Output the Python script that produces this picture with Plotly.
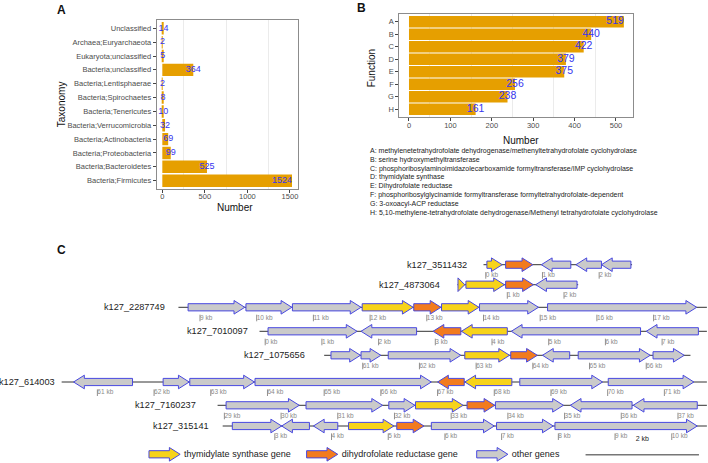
import plotly.graph_objects as go

# ---------------- data ----------------
TAXA = ["Unclassified", "Archaea;Euryarchaeota", "Eukaryota;unclassified",
        "Bacteria;unclassified", "Bacteria;Lentisphaerae", "Bacteria;Spirochaetes",
        "Bacteria;Tenericutes", "Bacteria;Verrucomicrobia", "Bacteria;Actinobacteria",
        "Bacteria;Proteobacteria", "Bacteria;Bacteroidetes", "Bacteria;Firmicutes"]
TAXA_COUNTS = [14, 2, 5, 364, 2, 8, 10, 32, 69, 99, 525, 1524]

FUNCS = ["A", "B", "C", "D", "E", "F", "G", "H"]
FUNC_COUNTS = [519, 440, 422, 379, 375, 256, 238, 161]
FUNC_NAMES = [
    "methylenetetrahydrofolate dehydrogenase/methenyltetrahydrofolate cyclohydrolase",
    "serine hydroxymethyltransferase",
    "phosphoribosylaminoimidazolecarboxamide formyltransferase/IMP cyclohydrolase",
    "thymidylate synthase",
    "Dihydrofolate reductase",
    "phosphoribosylglycinamide formyltransferase formyltetrahydrofolate-dependent",
    "3-oxoacyl-ACP reductase",
    "5,10-methylene-tetrahydrofolate dehydrogenase/Methenyl tetrahydrofolate cyclohydrolase",
]

CONTIGS = ["k127_3511432", "k127_4873064", "k127_2287749", "k127_7010097",
           "k127_1075656", "k127_614003", "k127_7160237", "k127_315141"]
CONTIG_START = [-0.04, 0.12, 8.62, -0.10, 60.32, 60.37, 28.88, 2.08]   # kb
CONTIG_END = [2.58, 2.25, 17.94, 7.79, 66.78, 71.75, 37.51, 10.62]     # kb
TICK_FIRST = [0, 1, 9, 0, 61, 61, 29, 3]
TICK_LAST = [2, 2, 17, 7, 66, 71, 37, 10]

GENE_CONTIG = [0, 0, 0, 0, 0,
               1, 1, 1, 1,
               2, 2, 2, 2, 2, 2, 2, 2,
               3, 3, 3, 3, 3, 3,
               4, 4, 4, 4, 4, 4, 4, 4,
               5, 5, 5, 5, 5, 5, 5, 5,
               6, 6, 6, 6, 6, 6, 6, 6,
               7, 7, 7, 7, 7, 7, 7, 7]
GENE_START = [0.02, 0.35, 0.98, 1.59, 2.04,
              0.13, 0.27, 0.97, 1.50,
              8.79, 9.81, 10.63, 11.86, 12.77, 13.26, 13.93, 15.13,
              0.05, 1.69, 2.96, 3.46, 4.34, 6.72,
              60.44, 60.97, 61.45, 62.80, 63.61, 64.17, 64.80, 66.12,
              60.58, 62.16, 62.63, 63.78, 67.00, 67.48, 68.45, 70.01,
              29.03, 30.44, 31.90, 32.37, 33.28, 33.78, 35.10, 36.21,
              2.25, 3.12, 3.68, 4.30, 5.15, 5.76, 6.91, 7.94]
GENE_END = [0.29, 0.83, 1.50, 2.04, 2.56,
            0.25, 0.95, 1.46, 2.23,
            9.79, 10.62, 11.84, 12.76, 13.25, 13.92, 14.97, 17.76,
            1.62, 2.67, 3.45, 4.27, 6.62, 7.64,
            60.96, 61.32, 62.73, 63.59, 64.08, 64.65, 66.07, 66.67,
            61.62, 62.62, 63.77, 66.89, 67.47, 68.31, 69.91, 71.52,
            30.32, 31.79, 32.36, 33.21, 33.77, 34.98, 36.19, 37.34,
            3.12, 3.61, 4.11, 5.10, 5.63, 6.87, 7.91, 10.45]
GENE_STRAND = [1, 1, -1, -1, -1,
               1, 1, 1, -1,
               1, 1, 1, 1, 1, 1, 1, 1,
               1, -1, -1, -1, -1, -1,
               1, 1, 1, 1, 1, -1, 1, 1,
               -1, 1, 1, 1, -1, -1, 1, 1,
               1, 1, 1, 1, 1, 1, -1, -1,
               1, -1, -1, 1, 1, 1, 1, 1]
GENE_TYPE = ["TS", "DHFR", "other", "other", "other",
             "TS", "TS", "DHFR", "other",
             "other", "other", "other", "TS", "DHFR", "TS", "other", "other",
             "other", "other", "DHFR", "TS", "other", "other",
             "other", "other", "other", "TS", "DHFR", "other", "other", "other",
             "other", "other", "other", "other", "DHFR", "TS", "other", "other",
             "other", "other", "other", "TS", "DHFR", "other", "other", "other",
             "other", "other", "other", "TS", "DHFR", "other", "other", "other"]

LEGEND_TYPES = ["TS", "DHFR", "other"]
LEGEND_LABELS = ["thymidylate synthase gene", "dihydrofolate reductase gene", "other genes"]
SCALE_KB = 2

# ---------------- layout / style ----------------
W, H = 708, 463
FONT = "Liberation Sans, Arial, sans-serif"
BAR_COLOR = "#E69F00"
VAL_BLUE = "#3535F0"
TYPE_FILL = {"TS": "#F7D31A", "DHFR": "#F27B1E", "other": "#CACACA"}
OUTLINE = "#4848E0"

ROW_Y = [264.7, 284.7, 307.3, 331.3, 355.3, 382.0, 405.3, 426.0]   # px rows in panel C
ROW_SHIFT = [14.04, 13.42, 0.0, 10.15, -49.13, -53.81, -19.57, 7.32]  # kb alignment
LABEL_GAP = [15, 15, 11.6, 10, 17, 4.4, 19.6, 12]                   # px
LEGEND_X = [8.10, 10.88, 13.88]
LEGEND_Y = 454.3
SCALE_X0 = 15.80

def px(x):
    return x / W

def py(y):
    return 1 - y / H

fig = go.Figure()

# ---------- Panel A ----------
fig.add_trace(go.Bar(x=TAXA_COUNTS, y=TAXA, orientation="h", width=0.9,
                     marker=dict(color=BAR_COLOR, line=dict(width=0)),
                     xaxis="x", yaxis="y", hoverinfo="skip", showlegend=False))
mxA = max(TAXA_COUNTS)
fig.add_trace(go.Scatter(x=TAXA_COUNTS, y=TAXA, mode="text",
                         text=[str(v) for v in TAXA_COUNTS],
                         textposition=["middle left" if v == mxA else "middle center" for v in TAXA_COUNTS],
                         textfont=dict(size=9, color=VAL_BLUE, family=FONT),
                         xaxis="x", yaxis="y", hoverinfo="skip", showlegend=False,
                         cliponaxis=False))

# ---------- Panel B ----------
fig.add_trace(go.Bar(x=FUNC_COUNTS, y=FUNCS, orientation="h", width=0.92,
                     marker=dict(color=BAR_COLOR, line=dict(width=0)),
                     xaxis="x2", yaxis="y2", hoverinfo="skip", showlegend=False))
mxB = max(FUNC_COUNTS)
fig.add_trace(go.Scatter(x=FUNC_COUNTS, y=FUNCS, mode="text",
                         text=[str(v) for v in FUNC_COUNTS],
                         textposition=["middle left" if v == mxB else "middle center" for v in FUNC_COUNTS],
                         textfont=dict(size=10.5, color=VAL_BLUE, family=FONT),
                         xaxis="x2", yaxis="y2", hoverinfo="skip", showlegend=False,
                         cliponaxis=False))

# ---------- Panel C ----------
def arrow_xy(x0, x1, strand, yc, head=0.19, bh=3.6, hh=6.8):
    h = min(head, x1 - x0)
    ys = [yc - bh, yc - bh, yc - hh, yc, yc + hh, yc + bh, yc + bh, yc - bh]
    if strand > 0:
        b = x1 - h
        xs = [x0, b, b, x1, b, b, x0, x0]
    else:
        b = x0 + h
        xs = [x1, b, b, x0, b, b, x1, x1]
    return xs, ys

# contig backbone lines
lx, ly = [], []
for i in range(len(CONTIGS)):
    lx += [CONTIG_START[i] + ROW_SHIFT[i], CONTIG_END[i] + ROW_SHIFT[i], None]
    ly += [ROW_Y[i], ROW_Y[i], None]
fig.add_trace(go.Scatter(x=lx, y=ly, mode="lines", line=dict(color="#333333", width=1),
                         xaxis="x3", yaxis="y3", hoverinfo="skip", showlegend=False))

# ticks
tx, ty, tlx, tly, tlt = [], [], [], [], []
for i in range(len(CONTIGS)):
    for k in range(TICK_FIRST[i], TICK_LAST[i] + 1):
        g = k + ROW_SHIFT[i]
        tx += [g, g, None]
        ty += [ROW_Y[i] + 7.4, ROW_Y[i] + 14, None]
        tlx.append(g)
        tly.append(ROW_Y[i] + 10.8)
        tlt.append(f"{k} kb")
fig.add_trace(go.Scatter(x=tx, y=ty, mode="lines", line=dict(color="#8f8f8f", width=1),
                         xaxis="x3", yaxis="y3", hoverinfo="skip", showlegend=False))
fig.add_trace(go.Scatter(x=tlx, y=tly, mode="text", text=tlt, textposition="middle right",
                         textfont=dict(size=6.5, color="#8a8a8a", family=FONT),
                         xaxis="x3", yaxis="y3", hoverinfo="skip", showlegend=False))

# genes
for t in LEGEND_TYPES:
    gx, gy = [], []
    for j in range(len(GENE_START)):
        if GENE_TYPE[j] != t:
            continue
        c = GENE_CONTIG[j]
        xs, ys = arrow_xy(GENE_START[j] + ROW_SHIFT[c], GENE_END[j] + ROW_SHIFT[c],
                          GENE_STRAND[j], ROW_Y[c])
        gx += xs + [None]
        gy += ys + [None]
    # legend arrow
    li = LEGEND_TYPES.index(t)
    xs, ys = arrow_xy(LEGEND_X[li], LEGEND_X[li] + 0.55, 1, LEGEND_Y)
    gx += xs + [None]
    gy += ys + [None]
    fig.add_trace(go.Scatter(x=gx, y=gy, mode="lines", fill="toself",
                             fillcolor=TYPE_FILL[t], line=dict(color=OUTLINE, width=1),
                             xaxis="x3", yaxis="y3", hoverinfo="skip", showlegend=False))

# legend texts
fig.add_trace(go.Scatter(x=[x + 0.62 for x in LEGEND_X], y=[LEGEND_Y] * 3, mode="text",
                         text=LEGEND_LABELS, textposition="middle right",
                         textfont=dict(size=9, color="#222222", family=FONT),
                         xaxis="x3", yaxis="y3", hoverinfo="skip", showlegend=False))
# scale bar
fig.add_trace(go.Scatter(x=[SCALE_X0, SCALE_X0 + SCALE_KB], y=[454.7, 454.7], mode="lines",
                         line=dict(color="#777777", width=1.5),
                         xaxis="x3", yaxis="y3", hoverinfo="skip", showlegend=False))
fig.add_trace(go.Scatter(x=[SCALE_X0 + SCALE_KB / 2], y=[439.5], mode="text",
                         text=[f"{SCALE_KB} kb"], textposition="middle center",
                         textfont=dict(size=7, color="#222222", family=FONT),
                         xaxis="x3", yaxis="y3", hoverinfo="skip", showlegend=False))

annotations = []
for i, name in enumerate(CONTIGS):
    annotations.append(dict(x=CONTIG_START[i] + ROW_SHIFT[i], y=ROW_Y[i], xref="x3", yref="y3",
                            text=name, showarrow=False, xanchor="right", yanchor="middle",
                            xshift=-LABEL_GAP[i], font=dict(size=9.2, color="#222222", family=FONT)))

# panel letters
for lab, x, y in [("A", 61.7, 10), ("B", 361.7, 8), ("C", 61.7, 250)]:
    annotations.append(dict(x=px(x), y=py(y), xref="paper", yref="paper", text=f"<b>{lab}</b>",
                            showarrow=False, xanchor="center", yanchor="middle",
                            font=dict(size=12, color="#111111", family=FONT)))

# axis titles
def title(text, x, y, angle=0):
    annotations.append(dict(x=px(x), y=py(y), xref="paper", yref="paper", text=text,
                            showarrow=False, xanchor="center", yanchor="middle", textangle=angle,
                            font=dict(size=10, color="#111111", family=FONT)))

title("Number", 234.5, 207)
title("Taxonomy", 61.7, 104.5, -90)
title("Number", 521, 140.5)
title("Function", 372.3, 68, -90)

# footnote for B
FOOT_Y = [151, 159.8, 168.6, 177.4, 186.2, 195, 203.8, 212.6]
for i, (f, n) in enumerate(zip(FUNCS, FUNC_NAMES)):
    annotations.append(dict(x=px(367.7), y=py(FOOT_Y[i]), xref="paper", yref="paper",
                            text=f"{f}: {n}", showarrow=False, xanchor="left", yanchor="middle",
                            font=dict(size=7, color="#222222", family=FONT)))

axis_common = dict(showline=True, mirror=True, linecolor="#8c8c8c", linewidth=1,
                   ticks="outside", ticklen=3, tickcolor="#444444", tickwidth=1,
                   zeroline=False, showgrid=False, fixedrange=True)

fig.update_layout(
    width=W, height=H, margin=dict(l=0, r=0, t=0, b=0),
    paper_bgcolor="white", plot_bgcolor="white", showlegend=False,
    font=dict(family=FONT),
    xaxis=dict(domain=[px(156.7), px(297.7)], anchor="y", range=[-66, 1591],
               tickmode="linear", tick0=0, dtick=500, ticklabelstandoff=-3,
               tickfont=dict(size=7.5, color="#4d4d4d"),
               minor=dict(dtick=250, showgrid=True, gridcolor="#ebebeb", gridwidth=1),
               **axis_common),
    yaxis=dict(domain=[py(189), py(20)], anchor="x", type="category",
               categoryorder="array", categoryarray=TAXA[::-1], range=[-0.6, len(TAXA) - 0.4],
               tickfont=dict(size=7.5, color="#4d4d4d"), **axis_common),
    xaxis2=dict(domain=[px(399.3), px(633.3)], anchor="y2", range=[-23.4, 541.8],
                tickmode="linear", tick0=0, dtick=100, ticklabelstandoff=-2,
                tickfont=dict(size=7.5, color="#4d4d4d"),
                minor=dict(dtick=50, showgrid=True, gridcolor="#ebebeb", gridwidth=1),
                **axis_common),
    yaxis2=dict(domain=[py(116.7), py(14.3)], anchor="x2", type="category",
                categoryorder="array", categoryarray=FUNCS[::-1], range=[-0.6, len(FUNCS) - 0.4],
                tickfont=dict(size=7.5, color="#4d4d4d"), **axis_common),
    xaxis3=dict(domain=[0, 1], anchor="y3", range=[5.4727, 17.9594], visible=False, fixedrange=True),
    yaxis3=dict(domain=[0, py(240)], anchor="x3", range=[463, 240], visible=False, fixedrange=True),
    annotations=annotations,
)

fig.write_html("out.html", config={"displayModeBar": False},
               post_script="document.body.style.margin='0';document.body.style.overflow='hidden';")
